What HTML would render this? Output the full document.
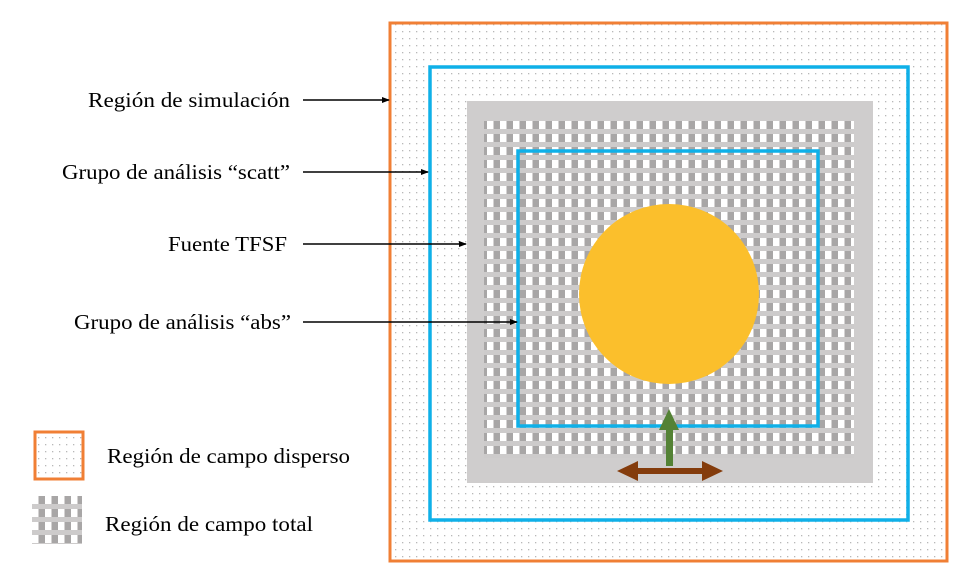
<!DOCTYPE html>
<html><head><meta charset="utf-8"><style>
body{margin:0;background:#fff;}
svg{display:block;font-family:"Liberation Serif",serif;}
</style></head><body>
<svg width="966" height="582" viewBox="0 0 966 582">
<defs>
<pattern id="dots" width="7" height="7" patternUnits="userSpaceOnUse">
<rect width="7" height="7" fill="#fff"/><rect x="3" y="3" width="1.3" height="1.3" fill="#b8b8b8"/>
</pattern>
<pattern id="check" x="487" y="121" width="13" height="13" patternUnits="userSpaceOnUse">
<rect width="13" height="13" fill="#fff"/>
<rect x="6.5" y="0" width="6.5" height="8" fill="#a8a6a6"/>
<rect x="0" y="8" width="13" height="5" fill="#cdcbcb"/>
</pattern>
<pattern id="check2" x="32" y="496" width="13" height="13" patternUnits="userSpaceOnUse">
<rect width="13" height="13" fill="#fff"/>
<rect x="6.5" y="0" width="6.5" height="8" fill="#a8a6a6"/>
<rect x="0" y="8" width="13" height="5" fill="#cdcbcb"/>
</pattern>
<marker id="ah" markerWidth="8" markerHeight="8" refX="7" refY="4" orient="auto" markerUnits="userSpaceOnUse"><path d="M0,1 L8,4 L0,7 z" fill="#000"/></marker>
</defs>
<rect x="390" y="23" width="557" height="538" fill="url(#dots)" stroke="#f07f35" stroke-width="3"/>
<rect x="430" y="67" width="478" height="453" fill="none" stroke="#0fb0e8" stroke-width="3.5"/>
<rect x="467" y="101" width="406" height="382" fill="#cfcdcd"/>
<rect x="484" y="121" width="370" height="337" fill="url(#check)"/>
<rect x="518" y="151" width="300" height="275" fill="none" stroke="#0fb0e8" stroke-width="3.5"/>
<circle cx="669" cy="294" r="90" fill="#fbbf2c"/>
<g>
<rect x="666" y="428" width="7" height="38" fill="#548235"/>
<path d="M659,430 L669,409 L679,430 z" fill="#548235"/>
</g>
<g>
<rect x="632" y="468" width="76" height="6" fill="#843c0c"/>
<path d="M617,471 L638,461 L638,481 z M723,471 L702,461 L702,481 z" fill="#843c0c"/>
</g>
<g font-size="21" fill="#000">
<text x="88" y="107" textLength="202" lengthAdjust="spacingAndGlyphs">Región de simulación</text>
<text x="62" y="179" textLength="228" lengthAdjust="spacingAndGlyphs">Grupo de análisis “scatt”</text>
<text x="168" y="251" textLength="119" lengthAdjust="spacingAndGlyphs">Fuente TFSF</text>
<text x="74" y="329" textLength="217" lengthAdjust="spacingAndGlyphs">Grupo de análisis “abs”</text>
<text x="107" y="463" textLength="243" lengthAdjust="spacingAndGlyphs">Región de campo disperso</text>
<text x="105" y="531" textLength="208" lengthAdjust="spacingAndGlyphs">Región de campo total</text>
</g>
<g stroke="#000" stroke-width="1.5" marker-end="url(#ah)">
<line x1="303" y1="100" x2="389" y2="100"/>
<line x1="303" y1="172" x2="428" y2="172"/>
<line x1="303" y1="244" x2="466" y2="244"/>
<line x1="303" y1="322" x2="517" y2="322"/>
</g>
<rect x="35" y="432" width="48" height="47" fill="url(#dots)" stroke="#f07f35" stroke-width="3"/>
<rect x="32" y="496" width="50" height="48" fill="url(#check2)"/>
</svg>
</body></html>
